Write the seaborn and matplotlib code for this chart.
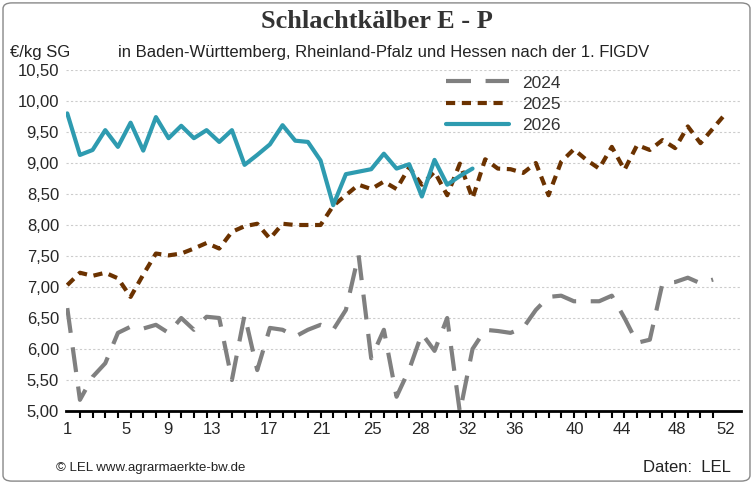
import matplotlib
matplotlib.use("Agg")
import matplotlib.pyplot as plt
from matplotlib.patches import FancyBboxPatch
import seaborn as sns
import pandas as pd
import numpy as np

v2024 = [6.66,5.18,5.55,5.77,6.26,6.36,6.33,6.39,6.26,6.50,6.31,6.52,6.50,5.50,6.55,5.66,6.34,6.31,6.20,6.31,6.39,6.31,6.63,7.52,5.85,6.31,5.23,5.67,6.25,5.97,6.50,4.98,6.00,6.31,6.29,6.26,6.34,6.63,6.84,6.86,6.77,6.77,6.77,6.86,6.50,6.10,6.15,7.06,7.08,7.15,7.06,7.12]
v2025 = [7.03,7.23,7.18,7.23,7.14,6.84,7.20,7.54,7.51,7.54,7.62,7.71,7.62,7.89,7.98,8.02,7.78,8.02,8.00,8.00,8.00,8.31,8.48,8.65,8.58,8.70,8.58,8.93,8.65,8.86,8.48,8.99,8.43,9.06,8.91,8.90,8.84,9.00,8.48,9.02,9.22,9.05,8.91,9.26,8.89,9.29,9.21,9.37,9.24,9.59,9.32,9.56,9.80]
v2026 = [9.80,9.13,9.21,9.53,9.26,9.65,9.20,9.74,9.40,9.60,9.40,9.53,9.34,9.53,8.97,9.13,9.30,9.61,9.36,9.34,9.04,8.32,8.82,8.86,8.90,9.15,8.91,8.98,8.46,9.05,8.65,8.79,8.91]
tick_labels = ["1","5","9","13","17","21","25","28","32","36","40","44","48","52"]
tick_pos = [0,4.66,7.97,11.4,15.9,20.1,24.1,27.9,31.6,35.3,40.1,43.8,48.1,52]
y_ticks = [5.0,5.5,6.0,6.5,7.0,7.5,8.0,8.5,9.0,9.5,10.0,10.5]

rows = []
for yr, vals in (("2024", v2024), ("2025", v2025), ("2026", v2026)):
    for i, v in enumerate(vals):
        rows.append({"idx": i, "val": v, "Jahr": yr})
df = pd.DataFrame(rows)

sns.set_theme(style="white")
plt.rcParams['font.family'] = ['Liberation Sans', 'DejaVu Sans']
fig = plt.figure(figsize=(7.53, 4.84), dpi=100)
ax = fig.add_axes([66/753, 73/484, 675/753, 341/484])

palette = {"2024": "#808080", "2025": "#6b3200", "2026": "#2e9bb0"}
styles = {"2024": (0, (6, 3.5)), "2025": (0, (2.2, 1.6)), "2026": "-"}
for yr in ["2024", "2025", "2026"]:
    sub = df[df.Jahr == yr]
    sns.lineplot(data=sub, x="idx", y="val", ax=ax, color=palette[yr],
                 linewidth=3, linestyle=styles[yr], label=yr)

ax.set_xlim(-0.1, 53.2)
ax.set_ylim(5.0, 10.5)
ax.set_yticks(y_ticks)
ax.set_yticklabels([f"{t:.2f}".replace(".", ",") for t in y_ticks], fontsize=12)
ax.set_xticks(range(53), minor=True)
ax.set_xticks(tick_pos)
ax.set_xticklabels(tick_labels, fontsize=12)
ax.tick_params(axis="x", which="major", length=0, pad=8)
ax.tick_params(axis="x", which="minor", length=5, width=1.5, color="black", bottom=True)
ax.tick_params(axis="y", length=0, pad=5)
ax.set_xlabel(""); ax.set_ylabel("")
for s in ["top", "right", "left"]:
    ax.spines[s].set_visible(False)
ax.spines["bottom"].set_color("black")
ax.spines["bottom"].set_linewidth(2)
ax.yaxis.grid(True, color="#cccccc", linestyle=(0, (2, 2)), linewidth=0.8)
ax.set_axisbelow(True)

leg = ax.legend(loc="upper left", bbox_to_anchor=(0.54, 1.03), frameon=False,
                fontsize=12.5, handlelength=3.6, labelspacing=0.35)
for t in leg.get_texts():
    t.set_color("#333333")

fig.text(0.5, 0.955, "Schlachtkälber E - P", ha="center", va="center",
         fontsize=19, fontweight="bold", family="Liberation Serif", color="#333333")
fig.text(0.013, 0.892, "€/kg SG", fontsize=12, va="center", color="#222222")
fig.text(0.157, 0.892, "in Baden-Württemberg, Rheinland-Pfalz und Hessen nach der 1. FlGDV",
         ha="left", va="center", fontsize=12, color="#222222")
fig.text(0.075, 0.034, "© LEL www.agrarmaerkte-bw.de", fontsize=9.5, va="center", color="#222222")
fig.text(0.97, 0.034, "Daten:  LEL", fontsize=12, ha="right", va="center", color="#222222")

fig.patches.append(FancyBboxPatch((0.004, 0.006), 0.992, 0.988,
                                  boxstyle="round,pad=0,rounding_size=0.012",
                                  transform=fig.transFigure, fill=False,
                                  edgecolor="#888888", linewidth=1))
fig.savefig("out.png", dpi=100)
